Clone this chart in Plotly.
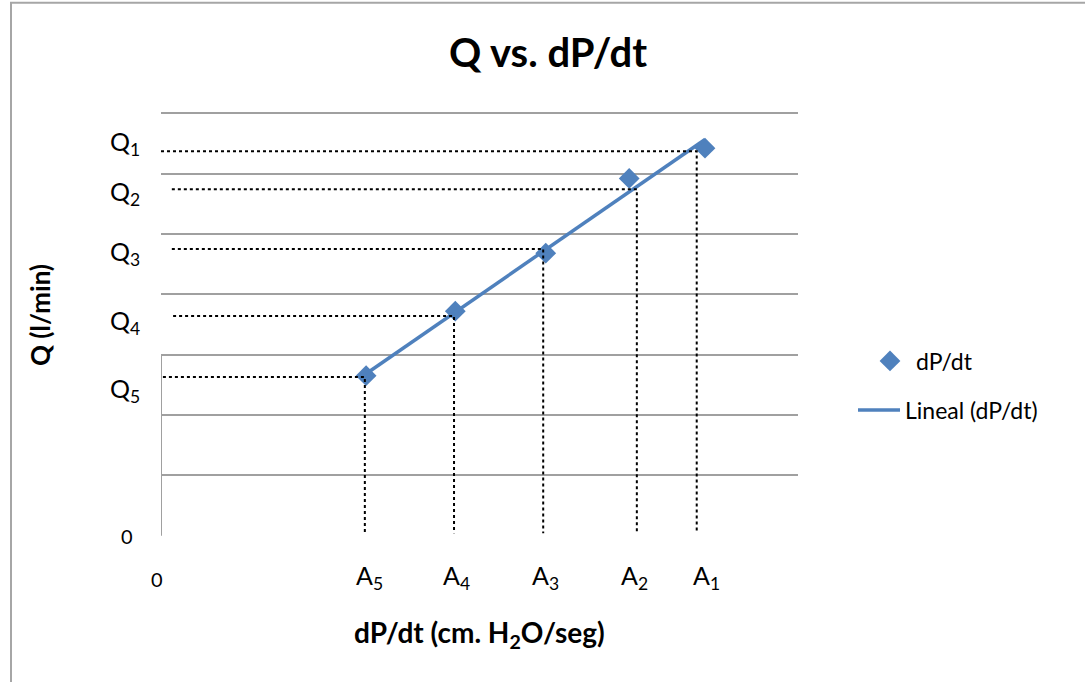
import numpy as np
import plotly.graph_objects as go

# ---- data ----
a_names = ["A<sub>1</sub>", "A<sub>2</sub>", "A<sub>3</sub>", "A<sub>4</sub>", "A<sub>5</sub>"]
q_names = ["Q<sub>1</sub>", "Q<sub>2</sub>", "Q<sub>3</sub>", "Q<sub>4</sub>", "Q<sub>5</sub>"]
dpdt = [8.54, 7.35, 6.04, 4.62, 3.22]        # measured points (x)
q_vals = [6.42, 5.92, 4.68, 3.72, 2.65]      # measured points (y)
a_levels = [8.41, 7.47, 6.00, 4.60, 3.20]    # reference A marks on x
q_levels = [6.37, 5.74, 4.75, 3.64, 2.63]    # reference Q marks on y
q_line_start = [0.0, 0.17, 0.17, 0.19, 0.03] # where the hand-drawn dotted lines begin
q_label_y = [6.50, 5.68, 4.68, 3.54, 2.42]
a_label_x = [8.56, 7.44, 6.04, 4.64, 3.28]

FONT = "Lato"
BLUE = "#4F81BD"

fig = go.Figure()

# data markers
fig.add_trace(go.Scatter(
    x=dpdt, y=q_vals, mode="markers", name="dP/dt",
    marker=dict(symbol="diamond", size=16, color=BLUE),
    legend="legend"))

# linear trend line
m, b = np.polyfit(dpdt, q_vals, 1)
xs = np.array([min(dpdt), max(dpdt)])
fig.add_trace(go.Scatter(
    x=xs, y=m * xs + b, mode="lines", name="Lineal (dP/dt)",
    line=dict(color=BLUE, width=3.5), legend="legend2"))

# dotted reference lines
for qs, ql, al in zip(q_line_start, q_levels, a_levels):
    fig.add_trace(go.Scatter(
        x=[qs, al, al], y=[ql, ql, 0.04], mode="lines", showlegend=False,
        line=dict(color="black", width=2, dash="dot"), hoverinfo="skip"))

# partial left axis line (0..3)
fig.add_shape(type="line", x0=0, x1=0, y0=0, y1=3, xref="x", yref="y",
              line=dict(color="#A0A0A0", width=2))
fig.add_shape(type="line", x0=-0.06, x1=0, y0=3, y1=3, xref="x", yref="y",
              line=dict(color="#A0A0A0", width=2))

# outer chart border
fig.add_shape(type="rect", xref="paper", yref="paper",
              x0=-150/637, x1=1.6, y0=-0.5, y1=(536 - 4) / 423,
              line=dict(color="#A6A6A6", width=2), layer="below")

# labels
def txt(size):
    return dict(family=FONT, size=size, color="black")

ann = []
for name, y in zip(q_names, q_label_y):
    ann.append(dict(x=0, xref="paper", y=y, yref="y", xshift=-36, text=name,
                    xanchor="center", yanchor="middle", showarrow=False, font=txt(25)))
ann.append(dict(x=0, xref="paper", y=0, yref="y", xshift=-34, text="0",
                xanchor="center", yanchor="middle", showarrow=False, font=txt(20)))
for name, x in zip(a_names, a_label_x):
    ann.append(dict(x=x, xref="x", y=0, yref="paper", yshift=-41, text=name,
                    xanchor="center", yanchor="middle", showarrow=False, font=txt(25)))
ann.append(dict(x=0, xref="x", y=0, yref="paper", yshift=-43, xshift=-4, text="0",
                xanchor="center", yanchor="middle", showarrow=False, font=txt(20)))
ann.append(dict(x=0, xref="paper", y=0, yref="paper", xshift=-121, yshift=221,
                text="<b>Q (l/min)</b>", textangle=-90, showarrow=False,
                xanchor="center", yanchor="middle", font=txt(26)))
ann.append(dict(x=(479 - 161) / 637, xref="paper", y=0, yref="paper", yshift=-98,
                text="<b>dP/dt (cm. H<sub>2</sub>O/seg)</b>", showarrow=False,
                xanchor="center", yanchor="middle", font=txt(28)))

fig.update_layout(
    width=1085, height=682,
    margin=dict(l=161, r=287, t=112, b=146),
    paper_bgcolor="white", plot_bgcolor="white",
    title=dict(text="<b>Q vs. dP/dt</b>", x=548 / 1085, xanchor="center",
               y=1 - 53 / 682, yanchor="middle", yref="container",
               font=txt(40)),
    xaxis=dict(range=[0, 10], showgrid=False, zeroline=False, showline=False,
               showticklabels=False, ticks=""),
    yaxis=dict(range=[-0.006, 7.02], dtick=1, tick0=0, showgrid=True,
               gridcolor="#A0A0A0", gridwidth=2, zeroline=False, showline=False,
               showticklabels=False, ticks=""),
    legend=dict(x=(864 - 161) / 637, y=(536 - 361) / 424, xanchor="left",
                yanchor="middle", font=txt(23), itemwidth=42,
                bgcolor="rgba(0,0,0,0)"),
    legend2=dict(x=(853 - 161) / 637, y=(536 - 410) / 424, xanchor="left",
                 yanchor="middle", font=txt(23), itemwidth=42,
                 bgcolor="rgba(0,0,0,0)"),
    annotations=ann,
    showlegend=True,
)

fig.write_html("out.html")
